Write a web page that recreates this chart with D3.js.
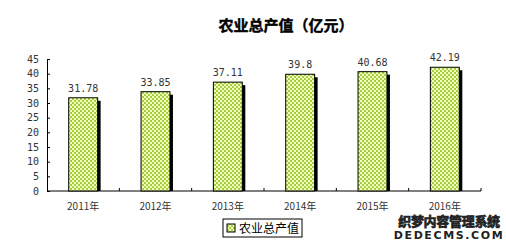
<!DOCTYPE html>
<html>
<head>
<meta charset="utf-8">
<script src="https://cdn.jsdelivr.net/npm/d3@7"></script>
<style>
  body { margin: 0; background: #fff; }
  svg { display: block; }
</style>
</head>
<body>
<div id="chart"></div>
<script>
// 农业总产值 bar chart, 2011-2016

const years = ["2011年", "2012年", "2013年", "2014年", "2015年", "2016年"];
const output = [31.78, 33.85, 37.11, 39.8, 40.68, 42.19];
const yTicks = [0, 5, 10, 15, 20, 25, 30, 35, 40, 45];

const width = 506;
const height = 244;
const margin = {left: 47, right: 25, top: 59, bottom: 53};

const svg = d3.select("#chart")
    .append("svg")
    .attr("width", width)
    .attr("height", height);

// checker-ish dotted fill like the Excel pattern
const defs = svg.append("defs");
const pat = defs.append("pattern")
    .attr("id", "dots")
    .attr("patternUnits", "userSpaceOnUse")
    .attr("width", 4)
    .attr("height", 4);
pat.append("rect").attr("width", 4).attr("height", 4).attr("fill", "#9ac832");
pat.append("circle").attr("cx", 1).attr("cy", 1).attr("r", 1.3).attr("fill", "#f0fcb8");
pat.append("circle").attr("cx", 3).attr("cy", 3).attr("r", 1.3).attr("fill", "#f0fcb8");

const x = d3.scaleBand()
    .domain(years)
    .range([margin.left, width - margin.right])
    .paddingInner(0.6)
    .paddingOuter(0.3);

const y = d3.scaleLinear()
    .domain([0, 45])
    .range([height - margin.bottom, margin.top]);

// title
svg.append("text")
    .attr("x", 286)
    .attr("y", 31)
    .attr("text-anchor", "middle")
    .attr("font-family", "Noto Sans CJK SC")
    .attr("font-weight", "bold")
    .attr("font-size", "15px")
    .attr("fill", "#000")
    .attr("stroke", "#000")
    .attr("stroke-width", 0.4)
    .text("农业总产值（亿元）");

// y axis
const yAxis = svg.append("g")
    .attr("transform", `translate(${margin.left},0)`)
    .call(d3.axisLeft(y).tickValues(yTicks).tickSize(-3).tickPadding(8));
yAxis.select(".domain").attr("stroke", "#000");
yAxis.selectAll(".tick line").attr("stroke", "#000");
yAxis.selectAll("text")
    .attr("font-family", "DejaVu Sans Mono")
    .attr("font-size", "10px")
    .attr("fill", "#333");

// x axis, ticks on category boundaries
const xAxisG = svg.append("g")
    .attr("transform", `translate(0,${height - margin.bottom})`);
xAxisG.append("line")
    .attr("x1", margin.left)
    .attr("x2", width - margin.right)
    .attr("stroke", "#000");
const catW = (width - margin.left - margin.right) / years.length;
xAxisG.selectAll(".sep")
    .data(d3.range(1, years.length + 1))
    .enter().append("line")
    .attr("x1", i => margin.left + i * catW)
    .attr("x2", i => margin.left + i * catW)
    .attr("y1", 0)
    .attr("y2", -3)
    .attr("stroke", "#000");
xAxisG.selectAll(".lbl")
    .data(years)
    .enter().append("text")
    .attr("x", d => x(d) + x.bandwidth() / 2)
    .attr("y", 19)
    .attr("text-anchor", "middle")
    .attr("font-family", "Noto Sans CJK SC")
    .attr("font-size", "10px")
    .attr("fill", "#333")
    .text(d => d);

// bars with shadow
const bars = svg.selectAll(".bar")
    .data(years.map((d, i) => ({year: d, v: output[i]})))
    .enter().append("g");

bars.append("rect")
    .attr("x", d => x(d.year) + 3)
    .attr("y", d => y(d.v) + 3)
    .attr("width", x.bandwidth())
    .attr("height", d => y(0) - y(d.v) - 3)
    .attr("fill", "#000");

bars.append("rect")
    .attr("x", d => x(d.year))
    .attr("y", d => y(d.v))
    .attr("width", x.bandwidth())
    .attr("height", d => y(0) - y(d.v))
    .attr("fill", "url(#dots)")
    .attr("stroke", "#000")
    .attr("stroke-width", 1);

bars.append("text")
    .attr("x", d => x(d.year) + x.bandwidth() / 2)
    .attr("y", d => y(d.v) - 6)
    .attr("text-anchor", "middle")
    .attr("font-family", "DejaVu Sans Mono")
    .attr("font-size", "10px")
    .attr("fill", "#333")
    .text(d => d.v);

// legend
const legend = svg.append("g").attr("transform", "translate(223,219)");
legend.append("rect")
    .attr("width", 79).attr("height", 18)
    .attr("fill", "#fff").attr("stroke", "#000");
legend.append("rect")
    .attr("x", 4).attr("y", 5).attr("width", 8).attr("height", 8)
    .attr("fill", "url(#dots)").attr("stroke", "#000");
legend.append("text")
    .attr("x", 16).attr("y", 13.5)
    .attr("font-family", "Noto Sans CJK SC")
    .attr("font-size", "12px")
    .attr("fill", "#000")
    .text("农业总产值");

// watermark
svg.append("text")
    .attr("x", 449).attr("y", 226)
    .attr("text-anchor", "middle")
    .attr("font-family", "Noto Sans CJK SC")
    .attr("font-weight", "bold")
    .attr("font-size", "13px")
    .attr("fill", "#222")
    .attr("stroke", "#222")
    .attr("stroke-width", 0.7)
    .attr("letter-spacing", "-0.3px")
    .text("织梦内容管理系统");
svg.append("text")
    .attr("x", 449).attr("y", 239)
    .attr("text-anchor", "middle")
    .attr("font-family", "DejaVu Sans")
    .attr("font-weight", "bold")
    .attr("font-size", "11px")
    .attr("fill", "#222")
    .attr("letter-spacing", "1.6px")
    .text("DEDECMS.COM");
</script>
</body>
</html>
